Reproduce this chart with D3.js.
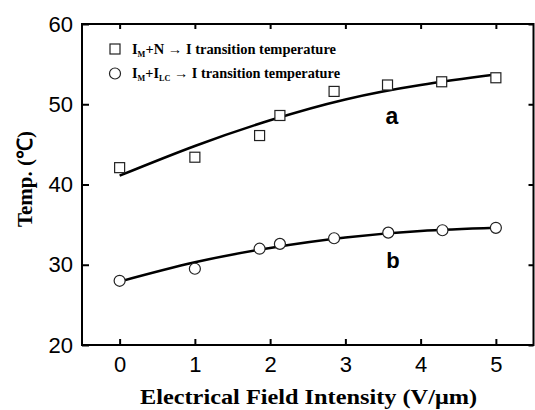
<!DOCTYPE html>
<html><head><meta charset="utf-8">
<script src="https://cdn.jsdelivr.net/npm/d3@7"></script>
<style>body{margin:0;background:#fff}svg{display:block}</style>
</head><body>
<script>
// data
const xTicks = [0, 1, 2, 3, 4, 5];
const yTicks = [20, 30, 40, 50, 60];
const seriesAx = [0, 1, 1.86, 2.13, 2.85, 3.56, 4.28, 5];
const seriesAy = [42.1, 43.4, 46.1, 48.6, 51.6, 52.4, 52.8, 53.3];
const seriesBx = [0, 1, 1.86, 2.13, 2.85, 3.57, 4.29, 5];
const seriesBy = [28.0, 29.5, 32.0, 32.6, 33.3, 34.0, 34.3, 34.6];
const fitAx = [0, 1, 2, 3, 4, 5];
const fitAy = [41.1, 44.8, 48.0, 50.6, 52.4, 53.7];
const fitBx = [0, 1, 2, 3, 4, 5];
const fitBy = [27.9, 30.3, 32.1, 33.4, 34.2, 34.6];

const W = 535, H = 410;
const m = {l: 82, r: 1.5, t: 24, b: 65};
const svg = d3.select("body").append("svg").attr("width", W).attr("height", H);
const x = d3.scaleLinear().domain([-0.5, 5.5]).range([m.l, W - m.r]);
const y = d3.scaleLinear().domain([20, 60]).range([H - m.b, m.t]);

// frame
svg.append("rect").attr("x", x(-0.5)).attr("y", y(60)).attr("width", x(5.5) - x(-0.5)).attr("height", y(20) - y(60))
  .attr("fill", "none").attr("stroke", "#000").attr("stroke-width", 2);

const tickFont = "'Liberation Sans', Arial, sans-serif";
// axes
const gx = svg.append("g").attr("transform", `translate(0,${y(20)})`)
  .call(d3.axisBottom(x).tickValues(xTicks).tickSize(-6).tickPadding(11).tickFormat(d3.format("d")));
const gy = svg.append("g").attr("transform", `translate(${x(-0.5)},0)`)
  .call(d3.axisLeft(y).tickValues(yTicks).tickSize(-7).tickPadding(9).tickFormat(d3.format("d")));
const gt = svg.append("g").attr("transform", `translate(0,${y(60)})`)
  .call(d3.axisTop(x).tickValues(xTicks).tickSize(-5).tickFormat(""));
const gr = svg.append("g").attr("transform", `translate(${x(5.5)},0)`)
  .call(d3.axisRight(y).tickValues(yTicks).tickSize(-5).tickFormat(""));
[gx, gy, gt, gr].forEach(g => {
  g.select(".domain").remove();
  g.selectAll(".tick line").attr("stroke", "#000").attr("stroke-width", 2);
  g.selectAll("text").attr("font-family", tickFont).attr("font-size", 22).attr("fill", "#000");
});
gx.selectAll("text").attr("dy", "0.71em");

// fit curves
const line = d3.line().x(d => x(d[0])).y(d => y(d[1])).curve(d3.curveNatural);
svg.append("path").datum(d3.zip(fitAx, fitAy)).attr("d", line)
  .attr("fill", "none").attr("stroke", "#000").attr("stroke-width", 2.5);
svg.append("path").datum(d3.zip(fitBx, fitBy)).attr("d", line)
  .attr("fill", "none").attr("stroke", "#000").attr("stroke-width", 2.5);

// markers
const sq = 10;
svg.selectAll(".sq").data(d3.zip(seriesAx, seriesAy)).enter().append("rect")
  .attr("x", d => x(d[0]) - sq / 2).attr("y", d => y(d[1]) - sq / 2)
  .attr("width", sq).attr("height", sq).attr("fill", "#fff").attr("stroke", "#222").attr("stroke-width", 1.2);
svg.selectAll(".ci").data(d3.zip(seriesBx, seriesBy)).enter().append("circle")
  .attr("cx", d => x(d[0])).attr("cy", d => y(d[1])).attr("r", 5.5)
  .attr("fill", "#fff").attr("stroke", "#222").attr("stroke-width", 1.2);

// legend
const serif = "'Liberation Serif', 'Times New Roman', serif";
svg.append("rect").attr("x", 110).attr("y", 44).attr("width", 10).attr("height", 10)
  .attr("fill", "#fff").attr("stroke", "#222").attr("stroke-width", 1.2);
svg.append("circle").attr("cx", 115).attr("cy", 73.5).attr("r", 5.5)
  .attr("fill", "#fff").attr("stroke", "#222").attr("stroke-width", 1.2);
const l1 = svg.append("text").attr("x", 132).attr("y", 53.5).attr("font-family", serif)
  .attr("font-weight", "bold").attr("font-size", 14).attr("fill", "#000")
  .attr("textLength", 204).attr("lengthAdjust", "spacingAndGlyphs");
l1.append("tspan").text("I");
l1.append("tspan").attr("font-size", 8).attr("dy", 3).text("M");
l1.append("tspan").attr("dy", -3).text("+N \u2192 I transition temperature");
const l2 = svg.append("text").attr("x", 132).attr("y", 78).attr("font-family", serif)
  .attr("font-weight", "bold").attr("font-size", 14).attr("fill", "#000")
  .attr("textLength", 208).attr("lengthAdjust", "spacingAndGlyphs");
l2.append("tspan").text("I");
l2.append("tspan").attr("font-size", 8).attr("dy", 3).text("M");
l2.append("tspan").attr("dy", -3).text("+I");
l2.append("tspan").attr("font-size", 8).attr("dy", 3).text("LC");
l2.append("tspan").attr("dy", -3).text(" \u2192 I transition temperature");

// curve labels
svg.append("text").attr("x", 392).attr("y", 124).attr("text-anchor", "middle")
  .attr("font-family", tickFont).attr("font-weight", "bold").attr("font-size", 23).text("a");
svg.append("text").attr("x", 393).attr("y", 268).attr("text-anchor", "middle")
  .attr("font-family", tickFont).attr("font-weight", "bold").attr("font-size", 22).text("b");

// axis titles
svg.append("text").attr("x", 140).attr("y", 404)
  .attr("font-family", serif).attr("font-weight", "bold").attr("font-size", 22)
  .attr("textLength", 337).attr("lengthAdjust", "spacingAndGlyphs").text("Electrical Field Intensity (V/\u03bcm)");
svg.append("text").attr("transform", "translate(32,179) rotate(-90)").attr("text-anchor", "middle")
  .attr("font-family", serif).attr("font-weight", "bold").attr("font-size", 21).text("Temp. (\u2103)");
</script>
</body></html>
